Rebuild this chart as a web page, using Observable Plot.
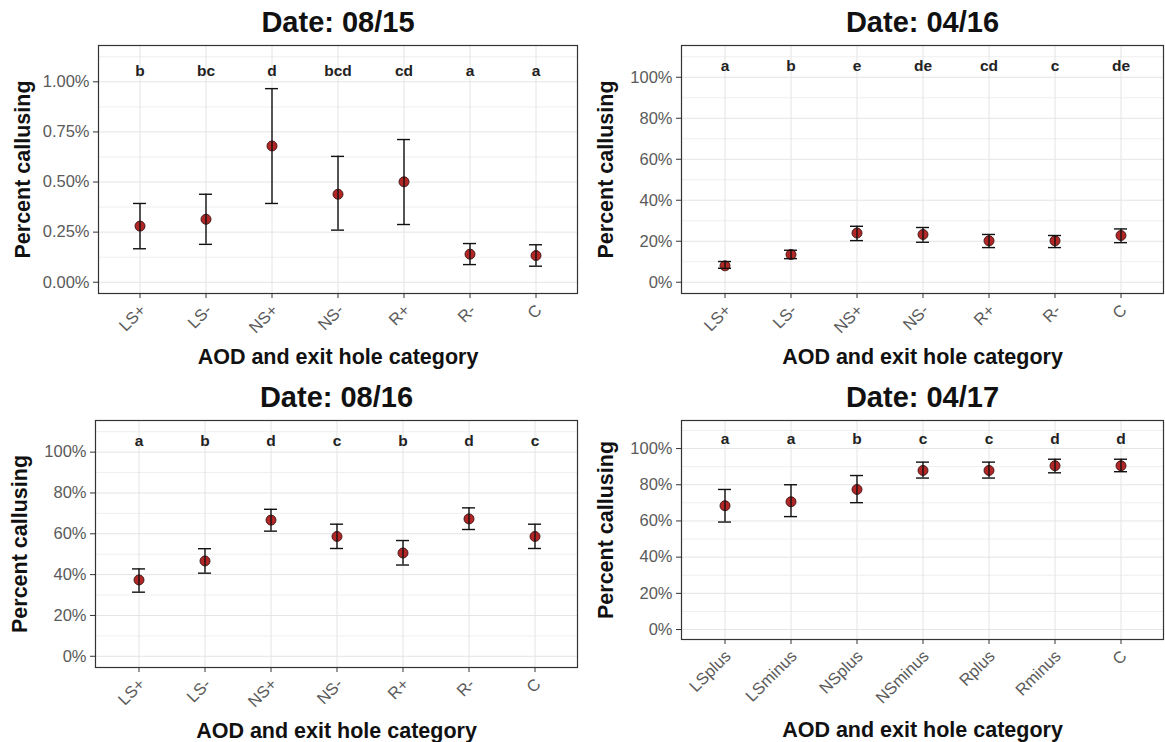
<!DOCTYPE html>
<html>
<head>
<meta charset="utf-8">
<script src="https://cdn.jsdelivr.net/npm/d3@7"></script>
<script src="https://cdn.jsdelivr.net/npm/@observablehq/plot@0.6"></script>
<style>
  html, body { margin: 0; padding: 0; background: #fff; }
  #chart { position: relative; width: 1165px; height: 742px; background: #fff; }
  #chart > svg { position: absolute; }
</style>
</head>
<body>
<div id="chart"></div>
<script>
// Callusing per AOD / exit hole category, four sampling dates
const categories = ["LS+", "LS-", "NS+", "NS-", "R+", "R-", "C"];
const categories0417 = ["LSplus", "LSminus", "NSplus", "NSminus", "Rplus", "Rminus", "C"];

const mean0815  = [0.280, 0.314, 0.680, 0.439, 0.501, 0.140, 0.133];
const lower0815 = [0.167, 0.189, 0.393, 0.260, 0.288, 0.088, 0.080];
const upper0815 = [0.393, 0.439, 0.966, 0.628, 0.712, 0.193, 0.187];
const letters0815 = ["b", "bc", "d", "bcd", "cd", "a", "a"];

const mean0416  = [8.0, 13.5, 24.0, 23.3, 20.2, 20.2, 22.8];
const lower0416 = [6.8, 11.5, 20.3, 19.5, 16.9, 16.9, 19.3];
const upper0416 = [10.1, 15.6, 27.3, 26.7, 23.3, 22.8, 26.0];
const letters0416 = ["a", "b", "e", "de", "cd", "c", "de"];

const mean0816  = [37.4, 46.7, 66.7, 58.7, 50.6, 67.3, 58.7];
const lower0816 = [31.4, 40.7, 61.3, 52.8, 44.7, 62.1, 52.8];
const upper0816 = [42.8, 52.7, 72.0, 64.7, 56.7, 72.7, 64.7];
const letters0816 = ["a", "b", "d", "c", "b", "d", "c"];

const mean0417  = [68.4, 70.6, 77.4, 87.9, 87.9, 90.5, 90.5];
const lower0417 = [59.4, 62.4, 70.1, 83.7, 83.7, 86.6, 87.2];
const upper0417 = [77.4, 80.0, 85.1, 92.5, 92.5, 94.1, 94.1];
const letters0417 = ["a", "a", "b", "c", "c", "d", "d"];

const smallTicks = [0, 0.25, 0.5, 0.75, 1.0];
const pctTicks = [0, 20, 40, 60, 80, 100];

const FONT = "'Liberation Sans', Arial, Helvetica, sans-serif";

function minorOf(ticks) {
  const step = ticks[1] - ticks[0];
  return ticks.map(t => t + step / 2);
}

function panel(cfg) {
  const rows = cfg.cats.map((c, i) => ({
    cat: c, mean: cfg.mean[i], lo: cfg.lo[i], hi: cfg.hi[i], letter: cfg.letters[i]
  }));
  const step = cfg.ticks[1] - cfg.ticks[0];
  const top = cfg.ticks[cfg.ticks.length - 1] + step / 2;   // data limit above the letters
  const pad = top * 0.05;
  const svg = Plot.plot({
    width: cfg.width,
    height: cfg.height,
    marginLeft: cfg.ml, marginRight: cfg.mr, marginTop: cfg.mt, marginBottom: cfg.mb,
    style: { fontFamily: FONT, background: "#fff", overflow: "visible" },
    x: { type: "band", domain: cfg.cats, paddingInner: 0.81, paddingOuter: 0.505, align: 0.5 },
    y: { domain: [-pad, top + pad] },
    marks: [
      Plot.ruleY(minorOf(cfg.ticks), { stroke: "#efefef", strokeWidth: 1 }),
      Plot.ruleY(cfg.ticks, { stroke: "#e4e4e4", strokeWidth: 1 }),
      Plot.ruleX(cfg.cats, { x: d => d, stroke: "#e4e4e4", strokeWidth: 1 }),
      Plot.dot(rows, { x: "cat", y: "mean", r: 5, fill: "#b22626", stroke: "#3a1212", strokeWidth: 0.9 }),
      Plot.ruleX(rows, { x: "cat", y1: "lo", y2: "hi", stroke: "#111", strokeWidth: 1.4 }),
      Plot.tickY(rows, { x: "cat", y: "lo", stroke: "#111", strokeWidth: 1.4 }),
      Plot.tickY(rows, { x: "cat", y: "hi", stroke: "#111", strokeWidth: 1.4 }),
      Plot.text(rows, { x: "cat", y: () => cfg.letterY, text: "letter", fontSize: 15.5, fontWeight: "bold", fill: "#222" }),
      // y axis: tick marks then labels
      Plot.axisY({ ticks: cfg.ticks, tickSize: 5, fill: "none", stroke: "#333", label: null }),
      Plot.axisY({ ticks: cfg.ticks, tickFormat: cfg.fmt, tickSize: 0, tickPadding: 9, fontSize: 16.5, fill: "#5a5a5a", label: null }),
      // x axis: tick marks then rotated labels
      Plot.axisX({ tickSize: 5, fill: "none", stroke: "#333", label: null }),
      Plot.axisX({ tickSize: 0, tickPadding: 9, tickRotate: -45, dx: 3, dy: 5, fontSize: 16.5, fill: "#5a5a5a", label: null }),
      Plot.frame({ stroke: "#333", strokeWidth: 1.2 }),
      Plot.text([cfg.title], { text: d => d, frameAnchor: "top", lineAnchor: "middle", textAnchor: "middle",
                               dy: -23, fontSize: 29, fontWeight: "bold", fill: "#111" }),
      Plot.text(["AOD and exit hole category"], { text: d => d, frameAnchor: "bottom", lineAnchor: "middle", textAnchor: "middle",
                               dy: cfg.xTitleDy, fontSize: 21.5, fontWeight: "bold", fill: "#111" }),
      Plot.text(["Percent callusing"], { text: d => d, frameAnchor: "left", lineAnchor: "middle", textAnchor: "middle",
                               dx: -75, rotate: -90, fontSize: 21.5, fontWeight: "bold", fill: "#111" })
    ]
  });
  svg.style.left = cfg.left + "px";
  svg.style.top = cfg.top + "px";
  return svg;
}

const fmtSmall = d => d.toFixed(2) + "%";
const fmtPct = d => d + "%";

const chart = document.getElementById("chart");
chart.append(
  panel({ title: "Date: 08/15", cats: categories, mean: mean0815, lo: lower0815, hi: upper0815, letters: letters0815,
          ticks: smallTicks, fmt: fmtSmall, letterY: 1.055,
          left: 0, top: 0, width: 582, height: 371, ml: 98, mr: 5, mt: 45, mb: 78, xTitleDy: 64 }),
  panel({ title: "Date: 04/16", cats: categories, mean: mean0416, lo: lower0416, hi: upper0416, letters: letters0416,
          ticks: pctTicks, fmt: fmtPct, letterY: 105.5,
          left: 582, top: 0, width: 583, height: 371, ml: 99, mr: 2, mt: 45, mb: 78, xTitleDy: 64 }),
  panel({ title: "Date: 08/16", cats: categories, mean: mean0816, lo: lower0816, hi: upper0816, letters: letters0816,
          ticks: pctTicks, fmt: fmtPct, letterY: 105.5,
          left: 0, top: 371, width: 582, height: 371, ml: 95, mr: 5, mt: 49, mb: 75, xTitleDy: 64 }),
  panel({ title: "Date: 04/17", cats: categories0417, mean: mean0417, lo: lower0417, hi: upper0417, letters: letters0417,
          ticks: pctTicks, fmt: fmtPct, letterY: 105.5,
          left: 582, top: 371, width: 583, height: 371, ml: 99, mr: 2, mt: 49, mb: 103, xTitleDy: 91 })
);
</script>
</body>
</html>
